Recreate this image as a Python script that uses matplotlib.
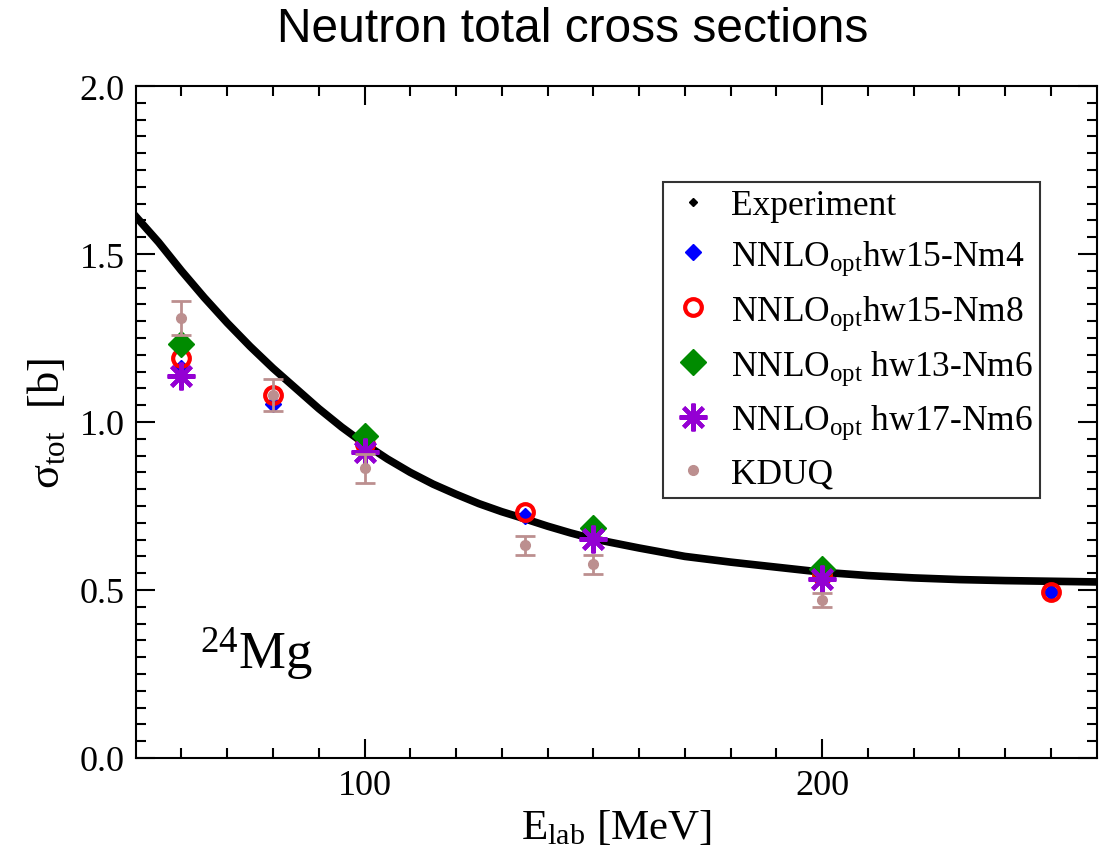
import matplotlib
matplotlib.use("Agg")
import matplotlib.pyplot as plt
from matplotlib.lines import Line2D

plt.rcParams['font.family'] = ['Liberation Serif', 'DejaVu Serif']
plt.rcParams['mathtext.fontset'] = 'custom'
plt.rcParams['mathtext.rm'] = 'Liberation Serif'
plt.rcParams['mathtext.it'] = 'Liberation Serif:italic'
plt.rcParams['mathtext.bf'] = 'Liberation Serif:bold'

exp_x = [50, 55, 60, 65, 70, 75, 80, 85, 90, 95, 100, 105, 110, 115, 120, 125,
         130, 135, 140, 145, 150, 160, 170, 180, 190, 200, 210, 220, 230, 240, 250, 260]
exp_y = [1.612, 1.535, 1.45, 1.37, 1.295, 1.225, 1.16, 1.10, 1.04, 0.985, 0.935,
         0.89, 0.85, 0.815, 0.785, 0.757, 0.733, 0.712, 0.69, 0.67, 0.652, 0.625,
         0.60, 0.583, 0.568, 0.553, 0.543, 0.536, 0.531, 0.528, 0.526, 0.524]

nm4_x = [60, 80, 100, 135, 200, 250]
nm4_y = [1.16, 1.055, 0.925, 0.72, 0.54, 0.495]

nm8_x = [60, 80, 100, 135, 200, 250]
nm8_y = [1.19, 1.08, 0.934, 0.733, 0.545, 0.495]

hw13_x = [60, 100, 150, 200]
hw13_y = [1.232, 0.958, 0.686, 0.562]

hw17_x = [60, 100, 150, 200]
hw17_y = [1.137, 0.91, 0.652, 0.533]

kduq_x = [60, 80, 100, 135, 150, 200]
kduq_y = [1.31, 1.08, 0.862, 0.633, 0.577, 0.471]
kduq_err = [0.05, 0.047, 0.043, 0.029, 0.028, 0.021]

W, H = 1107, 854
fig = plt.figure(figsize=(W / 100, H / 100), dpi=100)
ax = fig.add_axes([135.7 / W, 1 - 759 / H, (1096.7 - 135.7) / W, (759 - 87) / H])

blue = (0, 0, 1)
red = (1, 0, 0)
green = (0, 139 / 255, 0)
violet = (148 / 255, 0, 211 / 255)
brown = (188 / 255, 143 / 255, 143 / 255)

ax.plot(exp_x, exp_y, '-', color='black', lw=5.5, zorder=2)
ax.plot(nm4_x, nm4_y, 'D', color=blue, ms=8, ls='none', zorder=3)
ax.plot(nm8_x, nm8_y, 'o', mfc='none', mec=red, mew=3, ms=12, ls='none', zorder=4)
ax.plot(hw13_x, hw13_y, 'D', color=green, ms=13.5, ls='none', zorder=5)
ax.plot(hw17_x, hw17_y, marker=(8, 2, 0), color=violet, mew=3, ms=20, ls='none', zorder=6)
ax.errorbar(kduq_x, kduq_y, yerr=kduq_err, fmt='o', color=brown, ms=7,
            elinewidth=2, capsize=7.5, capthick=2, zorder=7)

ax.set_xlim(50, 260)
ax.set_ylim(0.0, 2.0)
ax.set_xticks([100, 200])
ax.set_xticks(range(60, 260, 10), minor=True)
ax.set_yticks([0.0, 0.5, 1.0, 1.5, 2.0])
ax.set_yticklabels(['0.0', '0.5', '1.0', '1.5', '2.0'])
ax.set_yticks([i * 0.05 for i in range(1, 40)], minor=True)
ax.tick_params(which='both', direction='in', top=True, right=True, width=1.5, labelsize=26)
ax.tick_params(which='major', length=13.5, pad=8)
ax.tick_params(which='minor', length=7)
for s in ax.spines.values():
    s.set_linewidth(1.5)

ax.set_xlabel(r'E$_{\rm lab}$ [MeV]', fontsize=31, labelpad=4)
ax.set_ylabel(r'σ$_{\rm tot}$  [b]', fontsize=32, labelpad=8)

ax.text(64, 0.265, r'$^{24}$Mg', fontsize=38, va='baseline', ha='left')

fig.text(573 / W, 1 - 30 / H, 'Neutron total cross sections', fontsize=34.5,
         family='Liberation Sans', ha='center', va='center')

handles = [
    Line2D([], [], marker='D', color='black', ms=4, ls='none'),
    Line2D([], [], marker='D', color=blue, ms=8, ls='none'),
    Line2D([], [], marker='o', mfc='none', mec=red, mew=3, ms=12, ls='none'),
    Line2D([], [], marker='D', color=green, ms=13.5, ls='none'),
    Line2D([], [], marker=(8, 2, 0), color=violet, mew=3, ms=20, ls='none'),
    Line2D([], [], marker='o', color=brown, ms=7, ls='none'),
]
labels = ['Experiment',
          r'NNLO$_{\rm opt}$hw15-Nm4',
          r'NNLO$_{\rm opt}$hw15-Nm8',
          r'NNLO$_{\rm opt}$ hw13-Nm6',
          r'NNLO$_{\rm opt}$ hw17-Nm6',
          'KDUQ']
leg = ax.legend(handles, labels, loc='upper left', bbox_to_anchor=(0.549, 0.857),
                fontsize=25.5, frameon=True, fancybox=False, edgecolor='black',
                borderpad=0.2, labelspacing=0.46, handletextpad=0.4, handlelength=1.3,
                borderaxespad=0)
leg.get_frame().set_linewidth(1.5)

fig.savefig('out.png', dpi=100)
